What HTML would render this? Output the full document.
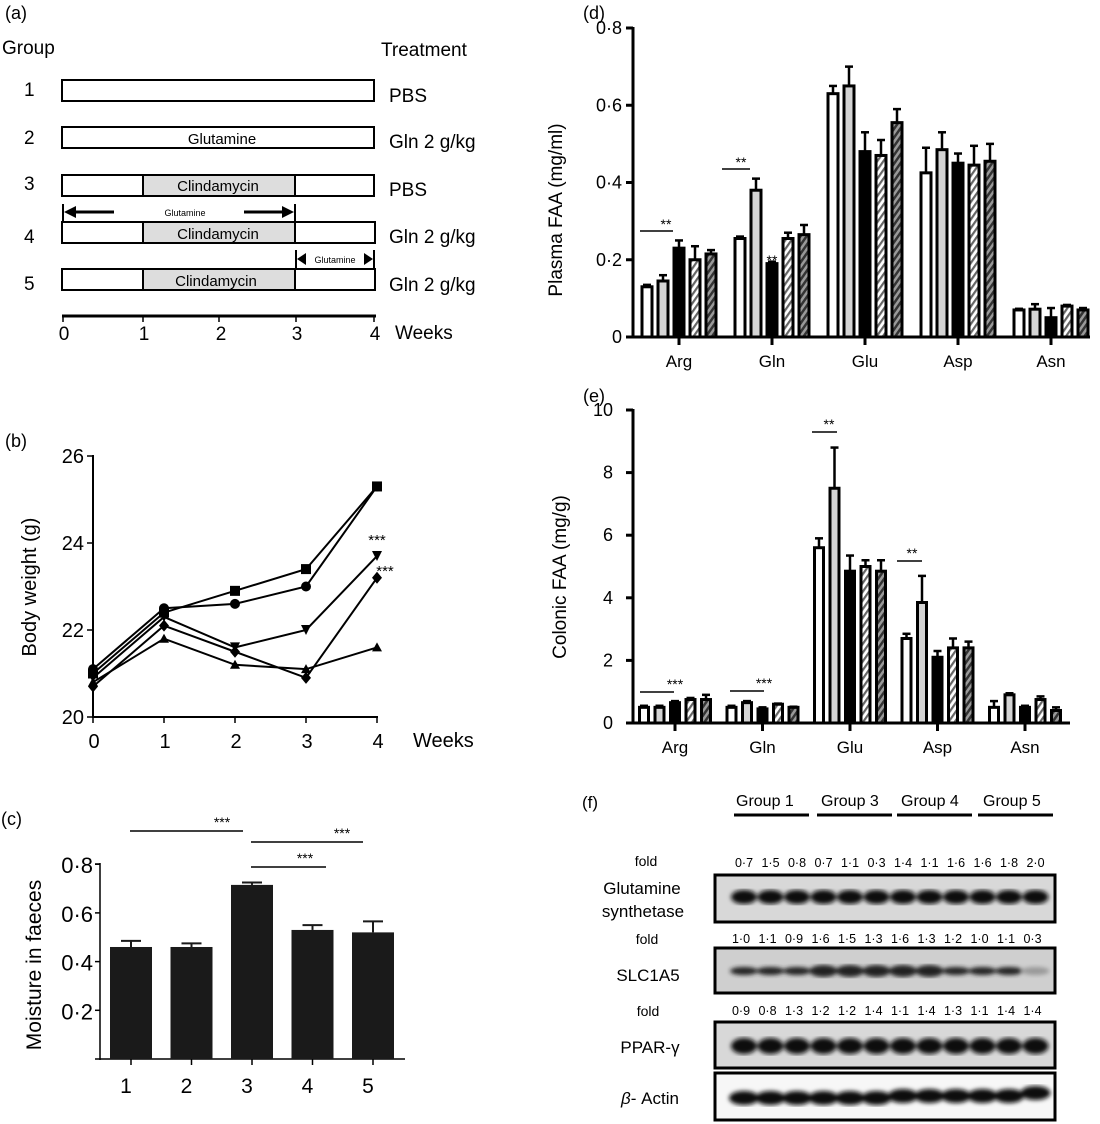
<!DOCTYPE html>
<html><head><meta charset="utf-8"><style>
body{margin:0;background:#fff}
svg{display:block;font-family:"Liberation Sans",sans-serif}
</style></head><body>
<svg id="fig" width="1100" height="1124" viewBox="0 0 1100 1124" xmlns="http://www.w3.org/2000/svg">
<defs>
<pattern id="hatchL" width="5" height="5" patternUnits="userSpaceOnUse" patternTransform="rotate(35)"><rect width="5" height="5" fill="#fff"/><rect width="2.2" height="5" fill="#666"/></pattern>
<pattern id="hatchD" width="5" height="5" patternUnits="userSpaceOnUse" patternTransform="rotate(35)"><rect width="5" height="5" fill="#999"/><rect width="2.5" height="5" fill="#333"/></pattern>
<filter id="blur"><feGaussianBlur stdDeviation="2"/></filter>
</defs>

<!-- Panel a -->
<g font-size="19" fill="#000">
<text x="5" y="19" font-size="18">(a)</text>
<text x="2" y="54" font-size="19">Group</text>
<text x="381" y="56" font-size="19">Treatment</text>
<g stroke="#000" stroke-width="2" fill="#fff">
<rect x="62" y="80" width="312" height="21"/>
<rect x="62" y="127" width="312" height="21"/>
<rect x="62" y="175" width="312" height="21"/>
<rect x="62" y="222" width="313" height="21"/>
<rect x="62" y="269" width="313" height="21"/>
<rect x="143" y="175" width="152" height="21" fill="#ddd"/>
<rect x="143" y="222" width="152" height="21" fill="#ddd"/>
<rect x="143" y="269" width="152" height="21" fill="#ddd"/>
</g>
<g font-size="19"><text x="24" y="96">1</text><text x="24" y="144">2</text><text x="24" y="190">3</text><text x="24" y="243">4</text><text x="24" y="290">5</text></g>
<g font-size="19"><text x="389" y="102">PBS</text><text x="389" y="148">Gln 2 g/kg</text><text x="389" y="196">PBS</text><text x="389" y="243">Gln 2 g/kg</text><text x="389" y="291">Gln 2 g/kg</text></g>
<g font-size="15" text-anchor="middle"><text x="222" y="144">Glutamine</text><text x="218" y="191">Clindamycin</text><text x="218" y="239">Clindamycin</text><text x="216" y="286">Clindamycin</text></g>
<g stroke="#000" stroke-width="2"><line x1="63" y1="204" x2="63" y2="222"/><line x1="295" y1="204" x2="295" y2="222"/>
<line x1="72" y1="212" x2="114" y2="212" stroke-width="3"/><line x1="244" y1="212" x2="286" y2="212" stroke-width="3"/>
<line x1="296" y1="250" x2="296" y2="269"/><line x1="374" y1="250" x2="374" y2="269"/></g>
<polygon points="64,212 76,206 76,218"/><polygon points="294,212 282,206 282,218"/>
<polygon points="297,259 306,253 306,265"/><polygon points="373,259 364,253 364,265"/>
<text x="185" y="216" font-size="9" text-anchor="middle">Glutamine</text>
<text x="335" y="263" font-size="9" text-anchor="middle">Glutamine</text>
<g stroke="#000" stroke-width="3"><line x1="62" y1="316" x2="376" y2="316"/></g>
<g stroke="#000" stroke-width="1.5"><line x1="63" y1="316" x2="63" y2="322"/><line x1="143" y1="316" x2="143" y2="322"/><line x1="219" y1="316" x2="219" y2="322"/><line x1="296" y1="316" x2="296" y2="322"/><line x1="374" y1="316" x2="374" y2="322"/></g>
<g font-size="19" text-anchor="middle"><text x="64" y="340">0</text><text x="144" y="340">1</text><text x="221" y="340">2</text><text x="297" y="340">3</text><text x="375" y="340">4</text></g>
<text x="395" y="339" font-size="19">Weeks</text>
</g>

<g id="pb"></g>
<g id="pc"></g>
<g id="pd"></g>
<g id="pe"></g>

<!-- Panel f -->
<g font-size="16">
<text x="582" y="808" font-size="17">(f)</text>
<g font-size="16"><text x="736" y="806">Group 1</text><text x="821" y="806">Group 3</text><text x="901" y="806">Group 4</text><text x="983" y="806">Group 5</text></g>
<g stroke="#000" stroke-width="3"><line x1="734" y1="815" x2="809" y2="815"/><line x1="817" y1="815" x2="892" y2="815"/><line x1="897" y1="815" x2="972" y2="815"/><line x1="978" y1="815" x2="1053" y2="815"/></g>
<g font-size="14" text-anchor="middle"><text x="646" y="866">fold</text><text x="647" y="944">fold</text><text x="648" y="1016">fold</text></g>
<g font-size="17" text-anchor="middle"><text x="642" y="894">Glutamine</text><text x="643" y="917">synthetase</text><text x="648" y="981">SLC1A5</text><text x="650" y="1053">PPAR-γ</text><text x="650" y="1104"><tspan font-style="italic">β</tspan>- Actin</text></g>
<g id="folds" font-size="12.5" text-anchor="middle"></g>
<g id="blots"></g>
</g>

<script>
const NS="http://www.w3.org/2000/svg";
function el(p,t,a,txt){const e=document.createElementNS(NS,t);for(const k in a)e.setAttribute(k,a[k]);if(txt!=null)e.textContent=txt;p.appendChild(e);return e;}

// ---------- Panel b data ----------
const bWeeks=[0,1,2,3,4];
const bSquare=[21.0,22.4,22.9,23.4,25.3];
const bCircle=[21.1,22.5,22.6,23.0,25.3];
const bTriDown=[20.9,22.3,21.6,22.0,23.7];
const bDiamond=[20.7,22.1,21.5,20.9,23.2];
const bTriUp=[20.8,21.8,21.2,21.1,21.6];
const bTicks=[20,22,24,26];

// ---------- Panel c data ----------
const cGroups=["1","2","3","4","5"];
const cMeans=[0.46,0.46,0.715,0.53,0.52];
const cErr=[0.025,0.015,0.01,0.02,0.045];
const cTicks=["0·2","0·4","0·6","0·8"];

// ---------- Panel d data ----------
const aminoAcids=["Arg","Gln","Glu","Asp","Asn"];
const dG1=[0.13,0.255,0.63,0.425,0.070];
const dG2=[0.145,0.38,0.65,0.485,0.072];
const dG3=[0.23,0.19,0.48,0.45,0.050];
const dG4=[0.20,0.255,0.47,0.445,0.080];
const dG5=[0.215,0.265,0.555,0.455,0.070];
const dE1=[0.005,0.005,0.02,0.065,0.003];
const dE2=[0.015,0.03,0.05,0.045,0.013];
const dE3=[0.02,0.005,0.05,0.025,0.025];
const dE4=[0.035,0.015,0.04,0.05,0.003];
const dE5=[0.01,0.025,0.035,0.045,0.005];
const dTicks=["0","0·2","0·4","0·6","0·8"];

// ---------- Panel e data ----------
const eG1=[0.5,0.5,5.6,2.7,0.5];
const eG2=[0.5,0.65,7.5,3.85,0.9];
const eG3=[0.65,0.45,4.85,2.1,0.5];
const eG4=[0.75,0.6,5.0,2.4,0.75];
const eG5=[0.75,0.5,4.85,2.4,0.4];
const eE1=[0.05,0.05,0.3,0.15,0.2];
const eE2=[0.05,0.05,1.3,0.85,0.05];
const eE3=[0.05,0.05,0.5,0.2,0.05];
const eE4=[0.05,0.02,0.2,0.3,0.1];
const eE5=[0.15,0.02,0.35,0.2,0.1];
const eTicks=["0","2","4","6","8","10"];

// ---------- Panel f data ----------
const foldGS=["0·7","1·5","0·8","0·7","1·1","0·3","1·4","1·1","1·6","1·6","1·8","2·0"];
const foldSLC=["1·0","1·1","0·9","1·6","1·5","1·3","1·6","1·3","1·2","1·0","1·1","0·3"];
const foldPPAR=["0·9","0·8","1·3","1·2","1·2","1·4","1·1","1·4","1·3","1·1","1·4","1·4"];

// ===== Panel b =====
(function(){
const g=document.getElementById('pb');
const x=w=>93+w*71, y=v=>717-(v-20)*43.5;
let t=el(g,'text',{x:5,y:447,'font-size':18},'(b)');

el(g,'line',{x1:93,y1:455,x2:93,y2:718,stroke:'#000','stroke-width':2});
el(g,'line',{x1:92,y1:717,x2:378,y2:717,stroke:'#000','stroke-width':2});
bTicks.forEach(v=>{el(g,'line',{x1:87,y1:y(v),x2:93,y2:y(v),stroke:'#000','stroke-width':1.5});
 el(g,'text',{x:84,y:y(v)+7,'text-anchor':'end','font-size':20},String(v));});
bWeeks.forEach(w=>{el(g,'line',{x1:x(w),y1:717,x2:x(w),y2:723,stroke:'#000','stroke-width':1.5});
 el(g,'text',{x:x(w)+1,y:748,'text-anchor':'middle','font-size':20},String(w));});
el(g,'text',{x:413,y:747,'font-size':20},'Weeks');
const yl=el(g,'text',{x:0,y:0,'font-size':20,'text-anchor':'middle',transform:'translate(36,587) rotate(-90)'},'Body weight (g)');

const series=[[bSquare,'square'],[bCircle,'circle'],[bTriDown,'tridown'],[bDiamond,'diamond'],[bTriUp,'triup']];
series.forEach(([vals,m])=>{
 const pl=el(g,'polyline',{points:vals.map((v,i)=>x(bWeeks[i])+','+y(v)).join(' '),fill:'none',stroke:'#000','stroke-width':2});
 
 vals.forEach((v,i)=>{const cx=x(bWeeks[i]),cy=y(v);let mk;
  if(m=='square')mk=el(g,'rect',{x:cx-5,y:cy-5,width:10,height:10});
  else if(m=='circle')mk=el(g,'circle',{cx:cx,cy:cy,r:5});
  else if(m=='tridown')mk=el(g,'polygon',{points:`${cx-5},${cy-5} ${cx+5},${cy-5} ${cx},${cy+5}`});
  else if(m=='triup')mk=el(g,'polygon',{points:`${cx-5},${cy+4} ${cx+5},${cy+4} ${cx},${cy-5}`});
  else mk=el(g,'polygon',{points:`${cx},${cy-6} ${cx+5},${cy} ${cx},${cy+6} ${cx-5},${cy}`});
  });
});
el(g,'text',{x:377,y:545,'text-anchor':'middle','font-size':15},'***');
el(g,'text',{x:385,y:576,'text-anchor':'middle','font-size':15},'***');
})();

// ===== Panel c =====
(function(){
const g=document.getElementById('pc');
const y=v=>1059-v*243.5, x=i=>131+i*60.5;
el(g,'text',{x:1,y:825,'font-size':18},'(c)');
el(g,'line',{x1:100,y1:863,x2:100,y2:1060,stroke:'#000','stroke-width':1.5});
el(g,'line',{x1:95,y1:1059,x2:405,y2:1059,stroke:'#000','stroke-width':1.5});
cTicks.forEach((s,i)=>{const v=0.2*(i+1);el(g,'line',{x1:95,y1:y(v),x2:100,y2:y(v),stroke:'#000','stroke-width':1.5});
 el(g,'text',{x:93,y:y(v)+9,'text-anchor':'end','font-size':22},s);});
el(g,'line',{x1:95,y1:864,x2:100,y2:864,stroke:'#000','stroke-width':1.5});
const yl=el(g,'text',{x:0,y:0,'font-size':21,'text-anchor':'middle',transform:'translate(41,965) rotate(-90)'},'Moisture in faeces');

cGroups.forEach((gn,i)=>{const cx=x(i);
 const b=el(g,'rect',{x:cx-21,y:y(cMeans[i]),width:42,height:1059-y(cMeans[i]),fill:'#1a1a1a'});
 
 el(g,'line',{x1:cx,y1:y(cMeans[i]),x2:cx,y2:y(cMeans[i]+cErr[i]),stroke:'#1a1a1a','stroke-width':2});
 el(g,'line',{x1:cx-10,y1:y(cMeans[i]+cErr[i]),x2:cx+10,y2:y(cMeans[i]+cErr[i]),stroke:'#1a1a1a','stroke-width':2});
 el(g,'line',{x1:cx,y1:1059,x2:cx,y2:1065,stroke:'#000','stroke-width':1.5});
 el(g,'text',{x:cx-5,y:1093,'text-anchor':'middle','font-size':21},gn);});
[[130,243,831,238],[251,363,842,352],[251,326,867,352]].forEach(a=>{
 el(g,'line',{x1:a[0],y1:a[2],x2:a[1],y2:a[2],stroke:'#000','stroke-width':1.5});
 el(g,'text',{x:a[1]-21,y:a[2]-4,'text-anchor':'middle','font-size':14},'***');});
})();

// ===== grouped bar helper =====
function grouped(gid,opt){
 const g=document.getElementById(gid);
 const {x0,y0,ytop,vmax,xEnd,gx0,gstep,pitch,bw,series,errs,ticks,tickStep,lblOff,lblSize}=opt;
 const y=v=>y0-(v/vmax)*(y0-ytop);
 const fills=['#fff','#d4d4d4','#000','url(#hatchL)','url(#hatchD)'];
 el(g,'line',{x1:x0,y1:ytop-1,x2:x0,y2:y0+1,stroke:'#000','stroke-width':3});
 el(g,'line',{x1:x0-6,y1:y0,x2:xEnd,y2:y0,stroke:'#000','stroke-width':3});
 ticks.forEach((s,i)=>{const v=i*tickStep;el(g,'line',{x1:x0-7,y1:y(v),x2:x0,y2:y(v),stroke:'#000','stroke-width':3});
  el(g,'text',{x:x0-lblOff,y:y(v)+6,'text-anchor':'end','font-size':lblSize},s);});
 aminoAcids.forEach((aa,j)=>{const gc=gx0+j*gstep;
  el(g,'line',{x1:gc,y1:y0,x2:gc,y2:y0+8,stroke:'#000','stroke-width':3});
  el(g,'text',{x:gc,y:y0+30,'text-anchor':'middle','font-size':17},aa);
  series.forEach((vals,k)=>{const cx=gc+(k-2)*pitch,v=vals[j],e=errs[k][j];
   el(g,'line',{x1:cx,y1:y(v),x2:cx,y2:y(v+e),stroke:'#000','stroke-width':2.5});
   el(g,'line',{x1:cx-4,y1:y(v+e),x2:cx+4,y2:y(v+e),stroke:'#000','stroke-width':2.5});
   const b=el(g,'rect',{x:cx-bw/2,y:y(v),width:bw,height:y0-y(v),fill:fills[k],stroke:'#000','stroke-width':3});
   });
 });
 return y;
}
// Panel d
(function(){
grouped('pd',{x0:633,y0:337,ytop:28,vmax:0.8,xEnd:1090,gx0:679,gstep:93,pitch:16,bw:10,
 series:[dG1,dG2,dG3,dG4,dG5],errs:[dE1,dE2,dE3,dE4,dE5],ticks:dTicks,tickStep:0.2,lblOff:11,lblSize:18});
const g=document.getElementById('pd');
el(g,'text',{x:583,y:19,'font-size':18},'(d)');
const yl=el(g,'text',{x:0,y:0,'font-size':19,'text-anchor':'middle',transform:'translate(562,210) rotate(-90)'},'Plasma  FAA (mg/ml)');

el(g,'line',{x1:640,y1:231,x2:673,y2:231,stroke:'#000','stroke-width':1.5});el(g,'text',{x:666,y:229,'text-anchor':'middle','font-size':14},'**');
el(g,'line',{x1:722,y1:169,x2:750,y2:169,stroke:'#000','stroke-width':1.5});el(g,'text',{x:741,y:167,'text-anchor':'middle','font-size':14},'**');
el(g,'text',{x:772,y:265,'text-anchor':'middle','font-size':14},'**');
})();
// Panel e
(function(){
grouped('pe',{x0:633,y0:723,ytop:410,vmax:10,xEnd:1070,gx0:675,gstep:87.5,pitch:15.5,bw:9,
 series:[eG1,eG2,eG3,eG4,eG5],errs:[eE1,eE2,eE3,eE4,eE5],ticks:eTicks,tickStep:2,lblOff:20,lblSize:18});
const g=document.getElementById('pe');
el(g,'text',{x:583,y:402,'font-size':18},'(e)');
const yl=el(g,'text',{x:0,y:0,'font-size':19,'text-anchor':'middle',transform:'translate(566,577) rotate(-90)'},'Colonic FAA (mg/g)');

[[640,674,692,'***',675],[730,764,691,'***',764],[812,837,432,'**',829],[897,922,561,'**',912]].forEach(a=>{
 el(g,'line',{x1:a[0],y1:a[2],x2:a[1],y2:a[2],stroke:'#000','stroke-width':1.5});
 el(g,'text',{x:a[4],y:a[2]-3,'text-anchor':'middle','font-size':14},a[3]);});
})();

// ===== Panel f blots =====
(function(){
const fg=document.getElementById('folds'),bg=document.getElementById('blots');
const laneX=i=>744+i*26.5;
[[foldGS,867],[foldSLC,943],[foldPPAR,1015]].forEach(([arr,yy])=>arr.forEach((s,i)=>{
 el(fg,'text',{x:laneX(i)+(yy==867?0:-3),y:yy},s);}));
const boxes=[['blot-glutamine-synthetase',875,47],['blot-slc1a5',948,45],['blot-ppar-gamma',1022,46],['blot-beta-actin',1073,47]];
boxes.forEach(([nm,yy,h],bi)=>{
 const r=el(bg,'rect',{x:715,y:yy,width:340,height:h,fill:bi==1?'#cfcfcf':(bi==3?'#f7f7f7':'#d8d8d8'),stroke:'#000','stroke-width':3});
 
 const bandG=el(bg,'g',{filter:'url(#blur)'});
 for(let i=0;i<12;i++){const cx=laneX(i);
  if(bi==0)el(bandG,'ellipse',{cx:cx,cy:yy+22,rx:13,ry:7,fill:'#111'});
  else if(bi==1)el(bandG,'ellipse',{cx:cx,cy:yy+23,rx:14,ry:i>=3&&i<=7?6:4,fill:i==11?'#999':'#222'});
  else if(bi==2)el(bandG,'ellipse',{cx:cx,cy:yy+24,rx:13,ry:8,fill:'#111'});
  else el(bandG,'ellipse',{cx:cx,cy:yy+25-(i>5?2:0)-(i==11?3:0),rx:15,ry:7,fill:'#111'});}
});
})();
</script>
</svg>
</body></html>
